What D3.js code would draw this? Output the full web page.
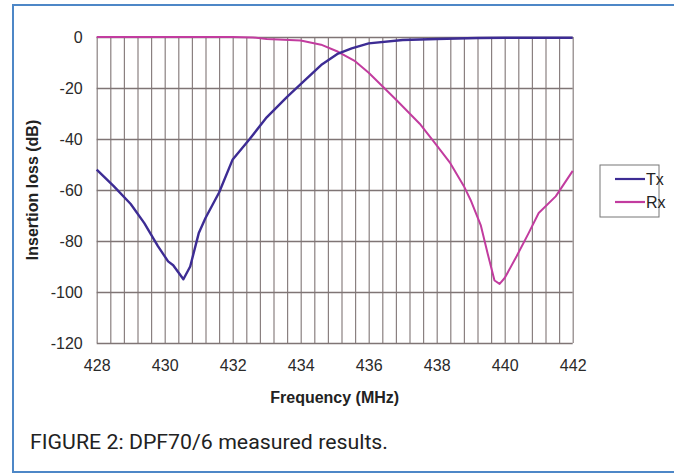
<!DOCTYPE html>
<html>
<head>
<meta charset="utf-8">
<script src="https://cdn.jsdelivr.net/npm/d3@7"></script>
<style>
  body { margin: 0; background: #fff; }
  svg { display: block; }
  .tick text { font-family: "Liberation Sans", Arial, sans-serif; font-size: 16px; fill: #2a2a2a; }
</style>
</head>
<body>
<div id="chart"></div>
<script>
// data (MHz, dB)
var txFreq = [428, 428.5, 429, 429.4, 429.8, 430.1, 430.25, 430.55, 430.75, 431, 431.2, 431.6, 432, 432.5, 433, 433.6, 434, 434.6, 435.1, 435.5, 436, 437, 438, 439.2, 440, 442];
var txLoss = [-52, -58.5, -65.5, -73, -82, -88, -89.5, -95, -90, -77, -71, -61, -48, -40, -31.5, -23.5, -18.5, -11, -6.5, -4.5, -2.5, -1.2, -0.8, -0.4, -0.3, -0.3];

var rxFreq = [428, 430, 432, 432.6, 433, 434, 434.6, 435.1, 435.6, 436, 436.8, 437.5, 438, 438.4, 438.8, 439, 439.3, 439.5, 439.7, 439.85, 440, 440.35, 440.7, 441, 441.5, 442];
var rxLoss = [0, 0, 0, -0.2, -0.8, -1.4, -3, -5.8, -9.5, -14, -24.5, -34, -42.5, -49.5, -58.5, -64, -74, -85, -95.5, -96.8, -94.5, -86, -77, -69, -62.5, -52.5];

var xLabels = [428, 430, 432, 434, 436, 438, 440, 442];
var yLabels = [0, -20, -40, -60, -80, -100, -120];
var gridFreq = d3.range(36).map(i => 428 + i * 0.4);

var W = 674, H = 474;
var pLeft = 96.7, pRight = 572.7, pTop = 37, pBottom = 343;

var svg = d3.select('#chart').append('svg').attr('width', W).attr('height', H);

// figure frame (top, left, bottom only)
svg.append('path')
    .attr('d', `M${W},5 H13 V472 H${W}`)
    .attr('fill', 'none')
    .attr('stroke', '#4d87c7')
    .attr('stroke-width', 2);

var x = d3.scaleLinear().domain([428, 442]).range([pLeft, pRight]);
var y = d3.scaleLinear().domain([0, -120]).range([pTop, pBottom]);

// vertical grid every 0.4 MHz
svg.append('g')
    .attr('transform', `translate(0,${pBottom})`)
    .call(d3.axisBottom(x).tickValues(gridFreq).tickSize(-(pBottom - pTop)).tickFormat(''))
    .call(g => g.select('.domain').remove())
    .call(g => g.selectAll('line').attr('stroke', '#8a8080').attr('stroke-width', 1.2));

// horizontal grid + y labels (plain hyphen minus like the original)
svg.append('g')
    .attr('transform', `translate(${pLeft},0)`)
    .call(d3.axisLeft(y).tickValues(yLabels).tickSize(-(pRight - pLeft)).tickPadding(14).tickFormat(d => String(d)))
    .call(g => g.select('.domain').remove())
    .call(g => g.selectAll('line').attr('stroke', '#7f7575').attr('stroke-width', 1.3));

// x labels
svg.append('g')
    .attr('transform', `translate(0,${pBottom})`)
    .call(d3.axisBottom(x).tickValues(xLabels).tickSize(0).tickPadding(17).tickFormat(d => String(d)))
    .call(g => g.select('.domain').remove());

var line = d3.line().x(d => x(d[0])).y(d => y(d[1])).curve(d3.curveLinear);

svg.append('path')
    .datum(rxFreq.map((f, i) => [f, rxLoss[i]]))
    .attr('d', line)
    .attr('fill', 'none')
    .attr('stroke', '#c23c9f')
    .attr('stroke-width', 2)
    .attr('stroke-linejoin', 'round');

svg.append('path')
    .datum(txFreq.map((f, i) => [f, txLoss[i]]))
    .attr('d', line)
    .attr('fill', 'none')
    .attr('stroke', '#3d2c94')
    .attr('stroke-width', 2.4)
    .attr('stroke-linejoin', 'round');

// axis titles
svg.append('text')
    .text('Frequency (MHz)')
    .attr('x', (pLeft + pRight) / 2)
    .attr('y', 403)
    .attr('text-anchor', 'middle')
    .style('font-family', '"Liberation Sans", Arial, sans-serif')
    .style('font-size', '16px')
    .style('font-weight', 'bold')
    .style('fill', '#222');

svg.append('text')
    .text('Insertion loss (dB)')
    .attr('transform', `translate(38,${(pTop + pBottom) / 2})rotate(-90)`)
    .attr('text-anchor', 'middle')
    .style('font-family', '"Liberation Sans", Arial, sans-serif')
    .style('font-size', '16px')
    .style('font-weight', 'bold')
    .style('fill', '#222');

// legend
var legend = svg.append('g').attr('transform', 'translate(600,165)');
legend.append('rect')
    .attr('width', 59).attr('height', 52)
    .attr('fill', '#fff').attr('stroke', '#777').attr('stroke-width', 1);

[['Tx', '#3d2c94'], ['Rx', '#c23c9f']].forEach((d, i) => {
    var yy = 14 + i * 23;
    legend.append('line')
        .attr('x1', 15).attr('x2', 45).attr('y1', yy).attr('y2', yy)
        .attr('stroke', d[1]).attr('stroke-width', 2.2);
    legend.append('text')
        .text(d[0])
        .attr('x', 46).attr('y', yy + 6)
        .style('font-family', '"Liberation Sans", Arial, sans-serif')
        .style('font-size', '16px')
        .style('fill', '#222');
});

// caption
svg.append('text')
    .text('FIGURE 2: DPF70/6 measured results.')
    .attr('x', 30)
    .attr('y', 449)
    .attr('textLength', 358)
    .attr('lengthAdjust', 'spacingAndGlyphs')
    .style('font-family', '"Liberation Sans Narrow", Roboto, sans-serif')
    .style('font-size', '20px')
    .style('fill', '#222');
</script>
</body>
</html>
